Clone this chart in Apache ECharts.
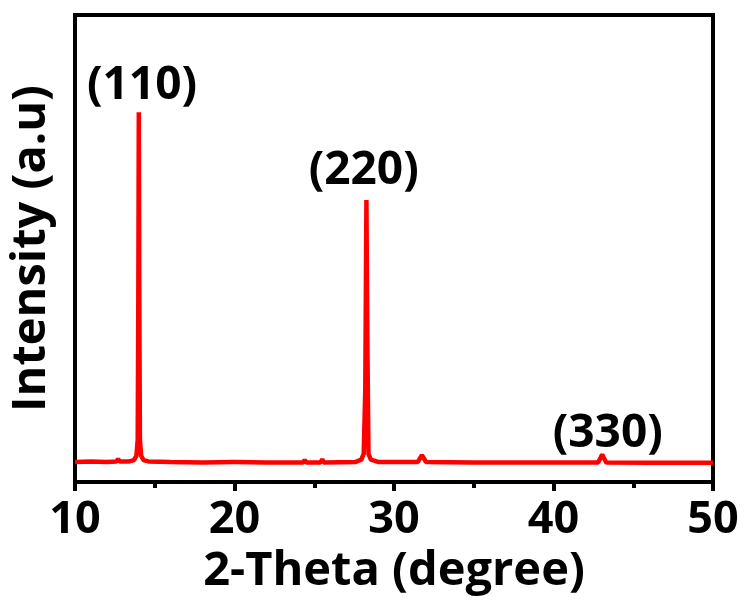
<!DOCTYPE html>
<html>
<head>
<meta charset="utf-8">
<script src="https://cdn.jsdelivr.net/npm/echarts@6/dist/echarts.min.js"></script>
<style>html,body{margin:0;padding:0;background:#fff}#c{width:749px;height:601px}</style>
</head>
<body>
<div id="c"></div>
<script>
var twoTheta = [10.0, 11.0, 12.0, 12.6, 12.7, 12.8, 13.4, 13.7, 13.85, 13.93, 13.97, 14.0, 14.03, 14.07, 14.15, 14.3, 14.6, 16, 18, 19.9, 20.0, 20.1, 22, 24.3, 24.4, 24.5, 25.4, 25.5, 25.6, 27.6, 27.95, 28.1, 28.2, 28.27, 28.33, 28.4, 28.55, 29, 31.5, 31.65, 31.75, 31.85, 32.0, 35, 38, 40.4, 40.5, 40.6, 42.8, 42.95, 43.05, 43.15, 43.3, 46, 50];
var intensity = [4.3, 4.4, 4.3, 4.4, 4.9, 4.4, 4.4, 4.7, 5.6, 9, 40, 79.2, 40, 9, 5.6, 4.7, 4.4, 4.3, 4.2, 4.3, 4.6, 4.3, 4.2, 4.2, 4.7, 4.2, 4.2, 4.9, 4.2, 4.3, 4.8, 6, 20, 60.4, 30, 6, 4.8, 4.3, 4.3, 5.2, 5.7, 5.2, 4.3, 4.2, 4.2, 4.2, 4.6, 4.2, 4.2, 5.2, 5.9, 5.2, 4.2, 4.1, 4.1];
var peakLabels = ['(110)', '(220)', '(330)'];
var peakLabelX = [14.2, 28.1, 43.4];
var peakLabelY = [84.8, 66.6, 10.2];
var xTicks = [10, 20, 30, 40, 50];

var lineData = twoTheta.map(function (x, i) { return [x, intensity[i]]; });
var labelData = peakLabels.map(function (t, i) { return { value: [peakLabelX[i], peakLabelY[i]], name: t }; });
var fontFam = '"Open Sans", "Noto Sans", sans-serif';

var chart = echarts.init(document.getElementById('c'));
chart.setOption({
  animation: false,
  backgroundColor: '#fff',
  grid: { left: 75, right: 36, top: 15, bottom: 119, show: true, borderColor: '#000', borderWidth: 4, backgroundColor: 'transparent', containLabel: false, outerBoundsMode: 'none' },
  xAxis: {
    type: 'value', min: xTicks[0], max: xTicks[xTicks.length - 1], interval: 10,
    name: '2-Theta (degree)', nameLocation: 'middle', nameGap: 61,
    nameTextStyle: { fontFamily: fontFam, fontWeight: 'bold', fontSize: 47, color: '#000' },
    axisLine: { show: true, onZero: false, lineStyle: { color: '#000', width: 4 } },
    axisTick: { show: true, inside: false, length: 9, lineStyle: { color: '#000', width: 4 } },
    minorTick: { show: true, splitNumber: 2, length: 6, lineStyle: { color: '#000', width: 4 } },
    splitLine: { show: false },
    axisLabel: { fontFamily: fontFam, fontWeight: 'bold', fontSize: 45, color: '#000', margin: 16 }
  },
  yAxis: {
    type: 'value', min: 0, max: 100,
    name: 'Intensity (a.u)', nameLocation: 'middle', nameGap: 20,
    nameTextStyle: { fontFamily: fontFam, fontWeight: 'bold', fontSize: 47, color: '#000' },
    axisLine: { show: true, lineStyle: { color: '#000', width: 4 } },
    axisTick: { show: false }, axisLabel: { show: false }, splitLine: { show: false }
  },
  series: [
    {
      type: 'line', data: lineData, symbol: 'none', smooth: false,
      lineStyle: { color: '#ff0000', width: 4.5 }, z: 3
    },
    {
      type: 'scatter', data: labelData, symbolSize: 0, silent: true,
      itemStyle: { opacity: 1 },
      emphasis: { disabled: true },
      label: { show: true, position: 'inside', formatter: function (p) { return p.name; },
        fontFamily: fontFam, fontWeight: 'bold', fontSize: 46, color: '#000', opacity: 1 }
    }
  ]
});
</script>
</body>
</html>
